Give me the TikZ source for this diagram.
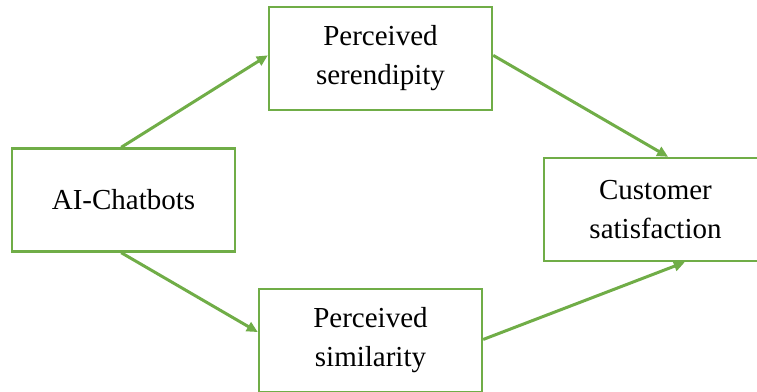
\documentclass[tikz,border=0pt]{standalone}
\usepackage{fontspec}
\setmainfont{Liberation Serif}
\usetikzlibrary{positioning, arrows.meta, calc}
\definecolor{boxgreen}{RGB}{112,173,71}
\tikzset{
every node/.style={font=\fontsize{29}{39}\selectfont}, % text size of the labels
construct/.style={draw=boxgreen, line width=2.4pt, fill=white, align=center,
  minimum width=223pt, minimum height=103pt, inner sep=0pt}, % sets the look of each box
path/.style={draw=boxgreen, line width=3pt, -{Triangle[length=11pt,width=10pt]}}, % the connecting arrows
}
\begin{document}
\begin{tikzpicture}[x=1pt, y=-1pt]
            \useasboundingbox (0,0) rectangle (757,391);
            \clip (0,0) rectangle (757,391);
            \node[construct] (ai) at (123.5,200) {AI-Chatbots};
            \node[construct] (ser) at (380.5,58.5) {Perceived\\serendipity};
            \node[construct] (sim) at (370.5,340.5) {Perceived\\similarity};
            \node[construct] (cust) at (655.5,209.5) {Customer\\satisfaction};
            \draw[path] ($(ai.north west)!0.49!(ai.north east)$) -- ($(ser.north west)!0.47!(ser.south west)$);
            \draw[path] ($(ai.south west)!0.49!(ai.south east)$) -- ($(sim.north west)!0.42!(sim.south west)$);
            \draw[path] ($(ser.north east)!0.47!(ser.south east)$) -- ($(cust.north west)!0.556!(cust.north east)$);
            \draw[path] ($(sim.north east)!0.49!(sim.south east)$) -- ($(cust.south west)!0.63!(cust.south east)$);
        \end{tikzpicture}
\end{document}
